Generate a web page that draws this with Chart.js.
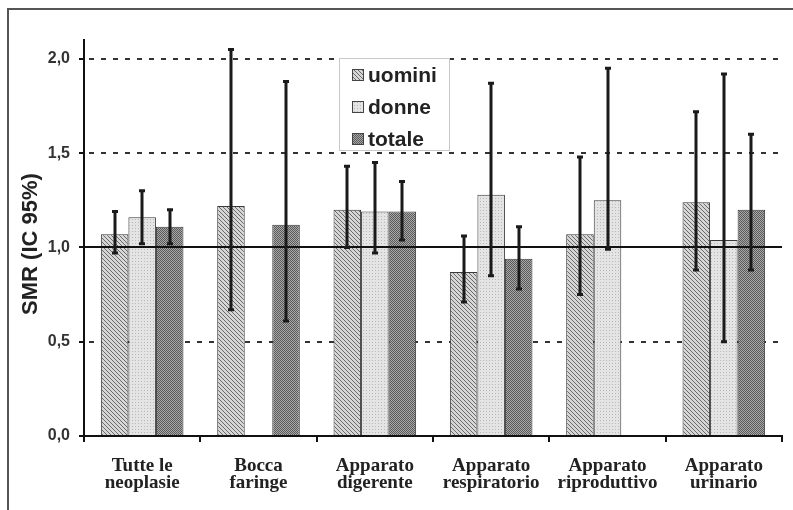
<!DOCTYPE html>
<html>
<head>
<meta charset="utf-8">
<script src="https://cdn.jsdelivr.net/npm/chart.js@4.4.1/dist/chart.umd.min.js"></script>
<style>
  html, body { margin: 0; padding: 0; background: #fff; }
  #wrap { width: 793px; height: 510px; position: relative; }
</style>
</head>
<body>
<div id="wrap"><canvas id="smr-chart" width="793" height="510"></canvas></div>
<script>
// categories and values
const categories = [
    ['Tutte le', 'neoplasie'],
    ['Bocca', 'faringe'],
    ['Apparato', 'digerente'],
    ['Apparato', 'respiratorio'],
    ['Apparato', 'riproduttivo'],
    ['Apparato', 'urinario']
];
const seriesNames = ['uomini', 'donne', 'totale'];

const uomini   = [1.07, 1.22, 1.20, 0.87, 1.07, 1.24];
const uominiLo = [0.97, 0.67, 1.00, 0.71, 0.75, 0.88];
const uominiHi = [1.19, 2.05, 1.43, 1.06, 1.48, 1.72];

const donne   = [1.16, null, 1.19, 1.28, 1.25, 1.04];
const donneLo = [1.02, null, 0.97, 0.85, 0.99, 0.50];
const donneHi = [1.30, null, 1.45, 1.87, 1.95, 1.92];

const totale   = [1.11, 1.12, 1.19, 0.94, null, 1.20];
const totaleLo = [1.02, 0.61, 1.04, 0.78, null, 0.88];
const totaleHi = [1.20, 1.88, 1.35, 1.11, null, 1.60];

const yTicks = [0, 0.5, 1.0, 1.5, 2.0];
const dashedLines = [0.5, 1.5, 2.0];
const refLine = 1.0;
const yTitle = 'SMR (IC 95%)';

// fill patterns like the printed figure
function makePattern(kind) {
    const c = document.createElement('canvas');
    const g = c.getContext('2d');
    if (kind === 'hatch') {
        c.width = 4; c.height = 4;
        g.fillStyle = '#d6d6d6';
        g.fillRect(0, 0, 4, 4);
        g.strokeStyle = '#6a6a6a';
        g.lineWidth = 1;
        g.beginPath();
        g.moveTo(-1, -1); g.lineTo(5, 5);
        g.moveTo(-1, 3); g.lineTo(1, 5);
        g.moveTo(3, -1); g.lineTo(5, 1);
        g.stroke();
    } else if (kind === 'dots') {
        c.width = 3; c.height = 3;
        g.fillStyle = '#e4e4e4';
        g.fillRect(0, 0, 3, 3);
        g.fillStyle = '#b8b8b8';
        g.fillRect(0, 0, 1, 1);
    } else {
        c.width = 2; c.height = 2;
        g.fillStyle = '#a8a8a8';
        g.fillRect(0, 0, 2, 2);
        g.fillStyle = '#5a5a5a';
        g.fillRect(0, 0, 1, 1);
        g.fillRect(1, 1, 1, 1);
    }
    return g.createPattern(c, 'repeat');
}

const patterns = [makePattern('hatch'), makePattern('dots'), makePattern('check')];
const lows = [uominiLo, donneLo, totaleLo];
const highs = [uominiHi, donneHi, totaleHi];

// frame, y title, dashed grid lines (behind bars)
const backdrop = {
    id: 'backdrop',
    beforeDraw(chart) {
        const ctx = chart.ctx;
        ctx.save();
        ctx.fillStyle = '#fff';
        ctx.fillRect(0, 0, chart.width, chart.height);
        ctx.strokeStyle = '#555';
        ctx.lineWidth = 2;
        ctx.strokeRect(8, 9, chart.width + 20, chart.height + 20);

        ctx.translate(31, 244);
        ctx.rotate(-Math.PI / 2);
        ctx.fillStyle = '#222';
        ctx.font = 'bold 22px "Liberation Sans", Arial, sans-serif';
        ctx.textAlign = 'center';
        ctx.textBaseline = 'middle';
        ctx.fillText(yTitle, 0, 0);
        ctx.restore();
    },
    beforeDatasetsDraw(chart) {
        const { ctx, chartArea, scales } = chart;
        ctx.save();
        ctx.strokeStyle = '#333';
        ctx.lineWidth = 2;
        ctx.setLineDash([5, 7]);
        dashedLines.forEach(v => {
            const y = Math.round(scales.y.getPixelForValue(v));
            ctx.beginPath();
            ctx.moveTo(chartArea.left + 5, y);
            ctx.lineTo(chartArea.right, y);
            ctx.stroke();
        });
        ctx.restore();
    }
};

// reference line at 1, error bars, legend box
const overlay = {
    id: 'overlay',
    afterDatasetsDraw(chart) {
        const { ctx, chartArea, scales } = chart;
        ctx.save();
        const y1 = Math.round(scales.y.getPixelForValue(refLine));
        ctx.strokeStyle = '#111';
        ctx.lineWidth = 2;
        ctx.beginPath();
        ctx.moveTo(chartArea.left, y1);
        ctx.lineTo(chartArea.right, y1);
        ctx.stroke();

        ctx.strokeStyle = '#1a1a1a';
        ctx.lineWidth = 3;
        chart.data.datasets.forEach((ds, i) => {
            const meta = chart.getDatasetMeta(i);
            meta.data.forEach((bar, j) => {
                if (ds.data[j] == null) return;
                const x = Math.round(bar.x);
                const yl = scales.y.getPixelForValue(lows[i][j]);
                const yh = scales.y.getPixelForValue(highs[i][j]);
                ctx.beginPath();
                ctx.moveTo(x, yl);
                ctx.lineTo(x, yh);
                ctx.stroke();
                ctx.beginPath();
                ctx.moveTo(x - 3, yl);
                ctx.lineTo(x + 3, yl);
                ctx.moveTo(x - 3, yh);
                ctx.lineTo(x + 3, yh);
                ctx.stroke();
            });
        });

        // legend
        const bx = 339, by = 58, bw = 110, bh = 92;
        ctx.fillStyle = '#fff';
        ctx.fillRect(bx, by, bw, bh);
        ctx.strokeStyle = '#c8c8c8';
        ctx.lineWidth = 1;
        ctx.strokeRect(bx + 0.5, by + 0.5, bw, bh);
        ctx.font = 'bold 21px "Liberation Sans", Arial, sans-serif';
        ctx.textBaseline = 'middle';
        seriesNames.forEach((name, i) => {
            const cy = 75 + i * 32;
            ctx.fillStyle = patterns[i];
            ctx.fillRect(352, cy - 6, 12, 12);
            ctx.strokeStyle = '#444';
            ctx.strokeRect(352.5, cy - 5.5, 11, 11);
            ctx.fillStyle = '#222';
            ctx.fillText(name, 368, cy + 1);
        });
        ctx.restore();
    }
};

const ctx = document.getElementById('smr-chart').getContext('2d');

new Chart(ctx, {
    type: 'bar',
    data: {
        labels: categories,
        datasets: [uomini, donne, totale].map((vals, i) => ({
            label: seriesNames[i],
            data: vals,
            backgroundColor: patterns[i],
            borderColor: '#3a3a3a',
            borderWidth: 1,
            borderSkipped: 'bottom',
            categoryPercentage: 0.71,
            barPercentage: 1.0
        }))
    },
    options: {
        responsive: false,
        animation: false,
        layout: { padding: { left: 0, top: 40, right: 11, bottom: 0 } },
        plugins: {
            legend: { display: false },
            tooltip: { enabled: false }
        },
        scales: {
            x: {
                afterFit(s) { s.height = 74; },
                grid: {
                    offset: true,
                    drawOnChartArea: false,
                    drawTicks: true,
                    tickLength: 6,
                    color: '#111',
                    lineWidth: 2
                },
                border: { color: '#111', width: 2 },
                ticks: {
                    padding: 15,
                    color: '#222',
                    maxRotation: 0,
                    autoSkip: false,
                    font: { family: '"Liberation Serif", "Times New Roman", serif', size: 19, weight: 'bold', lineHeight: 0.92 }
                }
            },
            y: {
                min: 0,
                max: 2.1,
                afterFit(s) { s.width = 84; },
                afterBuildTicks(s) {
                    s.ticks = yTicks.map(v => ({ value: v }));
                },
                grid: {
                    drawOnChartArea: false,
                    drawTicks: true,
                    tickLength: 5,
                    color: '#111',
                    lineWidth: 2
                },
                border: { color: '#111', width: 2 },
                ticks: {
                    padding: 9,
                    color: '#333',
                    callback: v => v.toFixed(1).replace('.', ','),
                    font: { family: '"Liberation Sans", Arial, sans-serif', size: 16, weight: 'bold' }
                }
            }
        }
    },
    plugins: [backdrop, overlay]
});
</script>
</body>
</html>
